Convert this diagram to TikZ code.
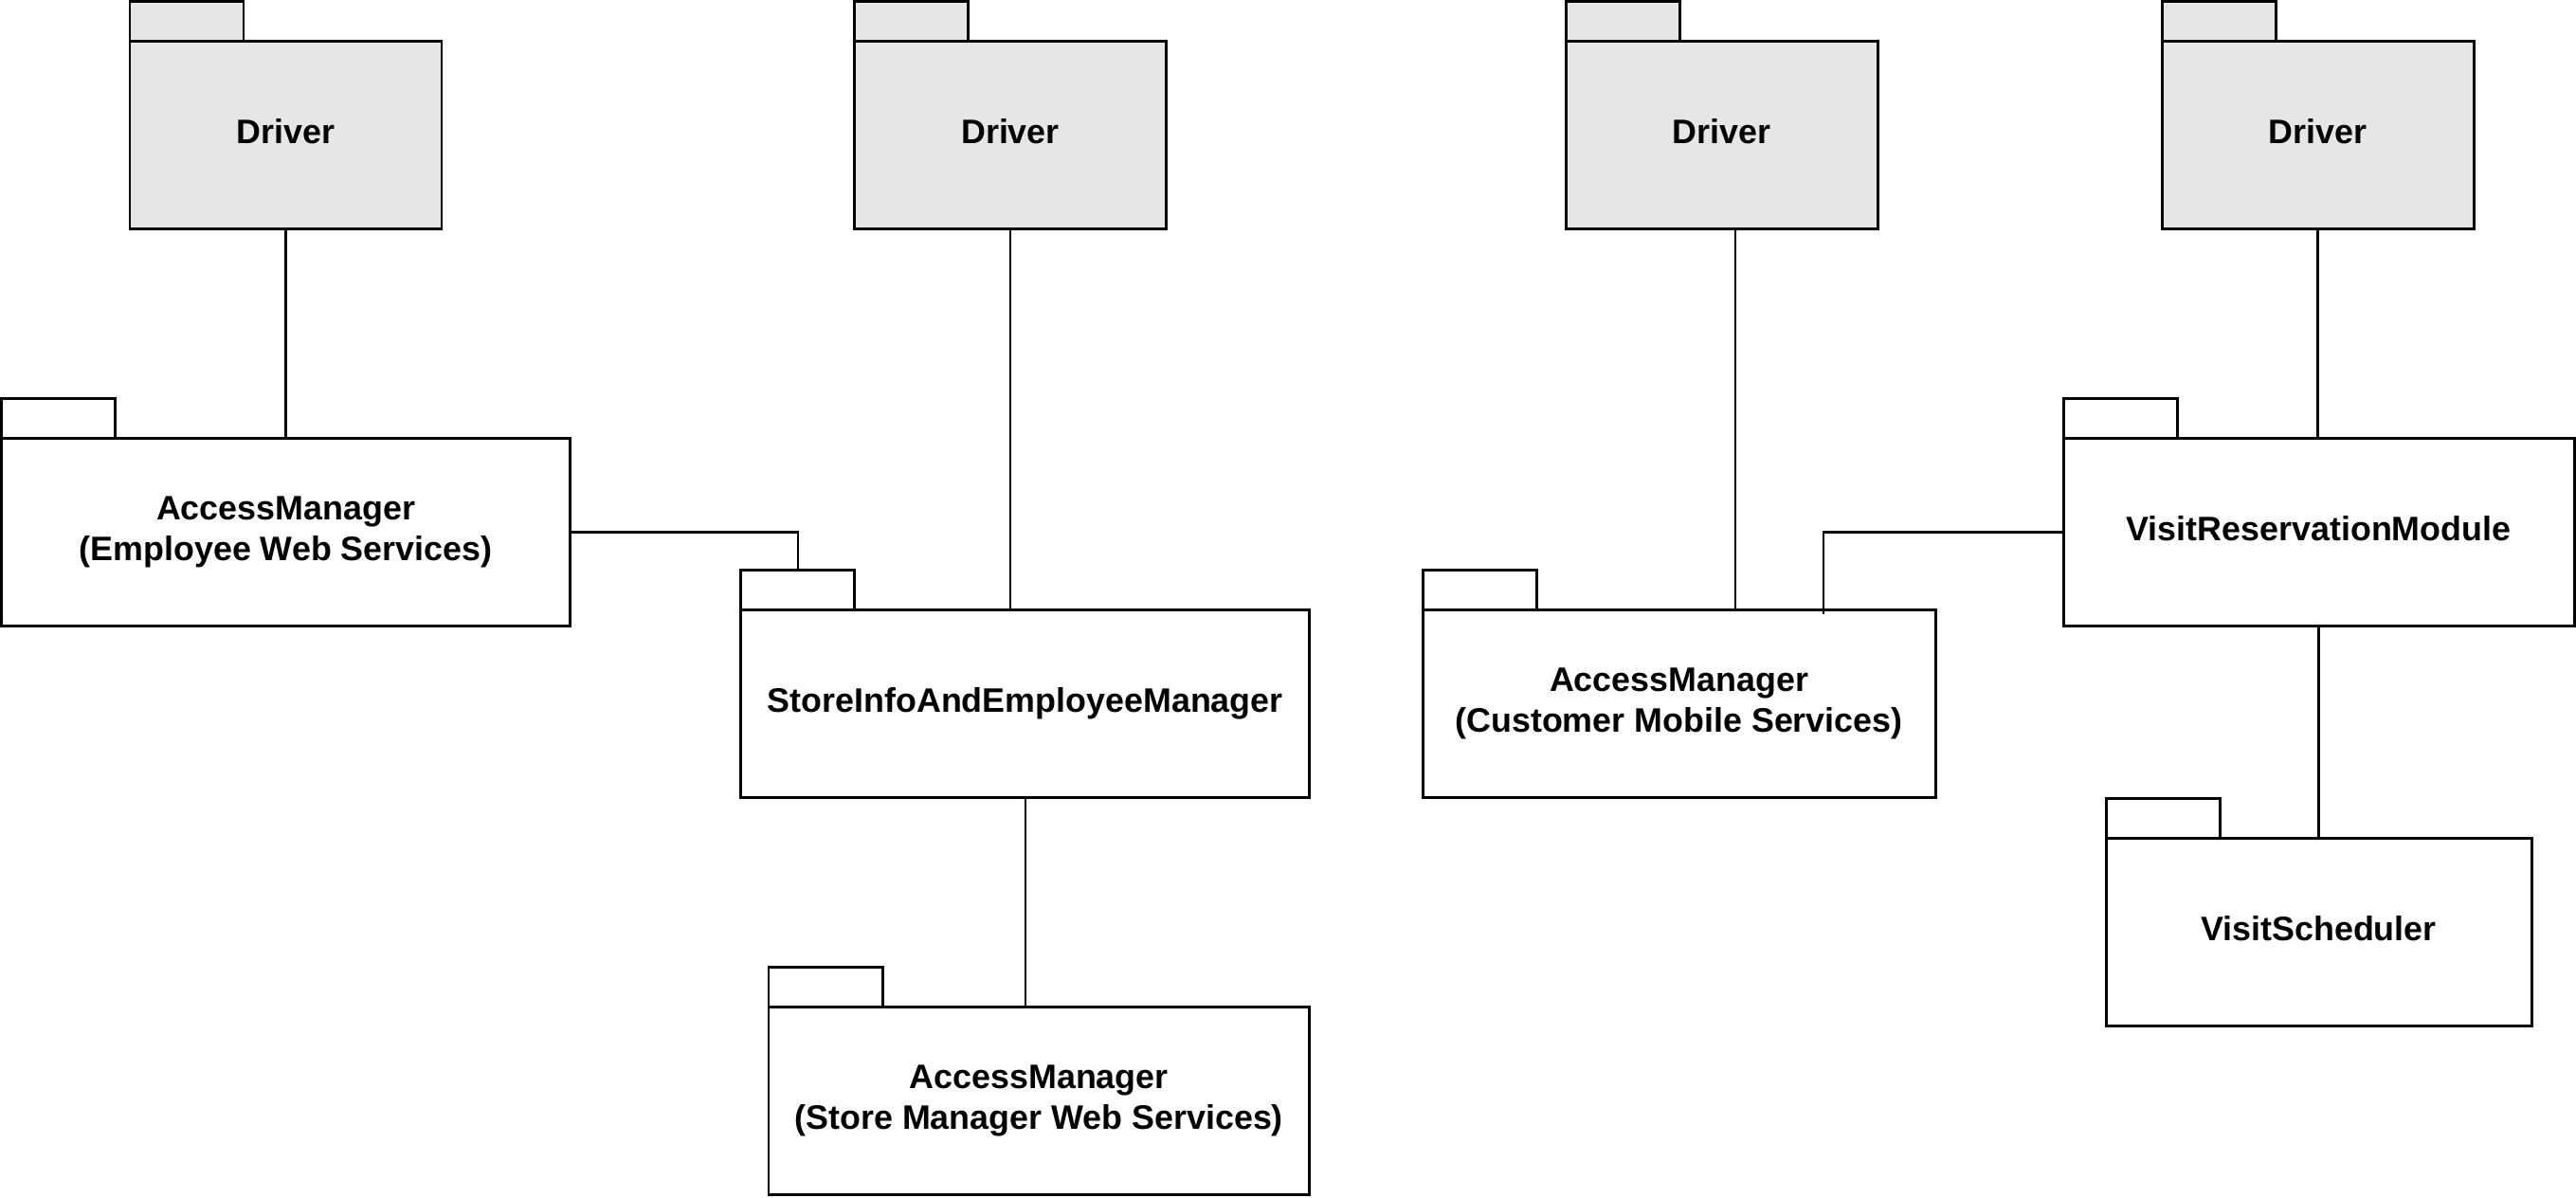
\documentclass[tikz,border=0pt]{standalone}
\usepackage{fontspec}
\setmainfont{Liberation Sans}
\usepackage{tikz}
\usetikzlibrary{positioning,calc}
\definecolor{PkgGray}{RGB}{230,230,230}

\begin{document}
\begin{tikzpicture}[
		pkg/.style={draw, line width=0.85pt, outer sep=0pt, inner sep=0pt, minimum height=1.98cm, align=center, font=\bfseries\fontsize{10.2}{12.3}\selectfont},
		oneline/.style={pkg, text depth=2.2pt},
		drv/.style={oneline, fill=PkgGray, minimum width=3.29cm},
		pkgtab/.style={draw, line width=0.85pt, outer sep=0pt, inner sep=0pt, minimum width=1.2cm, minimum height=0.42cm, anchor=south west},
		link/.style={line width=0.7pt}
	]
		\useasboundingbox (0,0) rectangle (27.18,-12.63);
		% driver packages
		\node[drv] (d1) at (3.015,-1.425) {Driver};
		\node[drv] (d2) at (10.66,-1.425) {Driver};
		\node[drv] (d3) at (18.165,-1.425) {Driver};
		\node[drv] (d4) at (24.455,-1.425) {Driver};
		\node[pkgtab, fill=PkgGray] (d1tab) at (d1.north west) {};
		\node[pkgtab, fill=PkgGray] (d2tab) at (d2.north west) {};
		\node[pkgtab, fill=PkgGray] (d3tab) at (d3.north west) {};
		\node[pkgtab, fill=PkgGray] (d4tab) at (d4.north west) {};
		% module packages
		\node[pkg, minimum width=6cm] (amemp) at (3.016,-5.615) {AccessManager\\(Employee Web Services)};
		\node[pkg, minimum width=6cm] (store) at (10.8175,-7.42) {StoreInfoAndEmployeeManager};
		\node[pkg, minimum width=5.705cm] (amstore) at (10.9625,-11.613) {AccessManager\\(Store Manager Web Services)};
		\node[pkg, minimum width=5.41cm] (amcust) at (17.715,-7.42) {AccessManager\\(Customer Mobile Services)};
		\node[oneline, minimum width=5.39cm] (vrm) at (24.465,-5.615) {VisitReservationModule};
		\node[oneline, minimum width=4.49cm] (sched) at (24.465,-9.83) {VisitScheduler};
		\node[pkgtab] (amemptab) at (amemp.north west) {};
		\node[pkgtab] (storetab) at (store.north west) {};
		\node[pkgtab] (amstoretab) at (amstore.north west) {};
		\node[pkgtab] (amcusttab) at (amcust.north west) {};
		\node[pkgtab] (vrmtab) at (vrm.north west) {};
		\node[pkgtab] (schedtab) at (sched.north west) {};
		% connectors
		\draw[link] (d1.south) -- (d1.south |- amemp.north);
		\draw[link] (d2.south) -- (d2.south |- store.north);
		\draw[link] ([xshift=1.45mm]d3.south) -- ([xshift=1.45mm]d3.south |- amcust.north);
		\draw[link] (d4.south) -- (d4.south |- vrm.north);
		\draw[link] (amemp.east) -| (storetab.north);
		\draw[link] (store.south) -- (store.south |- amstore.north);
		\draw[link] (vrm.west) -| ([xshift=-11.8mm, yshift=-0.5mm]amcust.north east);
		\draw[link] (vrm.south) -- (sched.north);
	\end{tikzpicture}
\end{document}
